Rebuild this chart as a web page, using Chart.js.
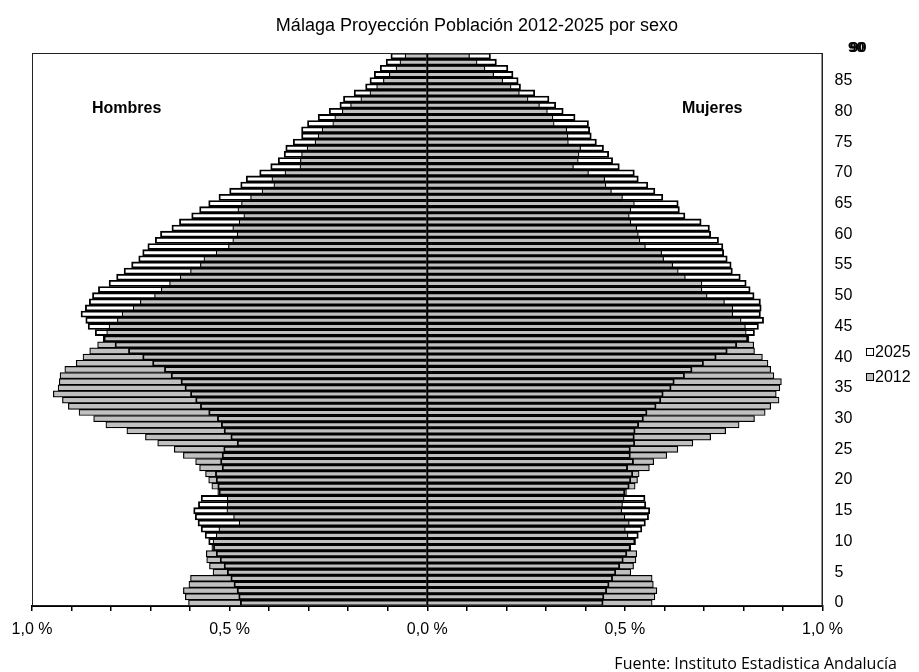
<!DOCTYPE html>
<html>
<head>
<meta charset="utf-8">
<title>Málaga Proyección Población 2012-2025 por sexo</title>
<script src="https://cdn.jsdelivr.net/npm/chart.js@4/dist/chart.umd.min.js"></script>
<style>
  html, body { margin: 0; padding: 0; background: #fff; }
  canvas { display: block; }
</style>
</head>
<body>
<canvas id="grafico" width="919" height="672"></canvas>
<script>

// edades 0..89 (de abajo hacia arriba)
const edades = ['0','1','2','3','4','5','6','7','8','9','10','11','12','13','14','15','16','17','18','19',
    '20','21','22','23','24','25','26','27','28','29','30','31','32','33','34','35','36','37','38','39',
    '40','41','42','43','44','45','46','47','48','49','50','51','52','53','54','55','56','57','58','59',
    '60','61','62','63','64','65','66','67','68','69','70','71','72','73','74','75','76','77','78','79',
    '80','81','82','83','84','85','86','87','88','89']

// % de la poblacion total
const hombres2012 = [0.604, 0.612, 0.617, 0.603, 0.599, 0.542, 0.551, 0.558, 0.559, 0.545,
    0.542, 0.534, 0.527, 0.476, 0.490, 0.507, 0.506, 0.506, 0.530, 0.545,
    0.553, 0.561, 0.576, 0.586, 0.617, 0.640, 0.682, 0.713, 0.760, 0.813,
    0.844, 0.881, 0.908, 0.923, 0.946, 0.934, 0.931, 0.929, 0.917, 0.888,
    0.871, 0.854, 0.834, 0.820, 0.811, 0.805, 0.784, 0.772, 0.744, 0.726,
    0.690, 0.673, 0.652, 0.625, 0.599, 0.574, 0.565, 0.534, 0.503, 0.492,
    0.481, 0.492, 0.476, 0.464, 0.479, 0.470, 0.447, 0.418, 0.388, 0.393,
    0.360, 0.322, 0.321, 0.318, 0.304, 0.284, 0.276, 0.266, 0.239, 0.234,
    0.215, 0.194, 0.168, 0.145, 0.128, 0.111, 0.096, 0.079, 0.069, 0.056]

const hombres2025 = [0.473, 0.477, 0.481, 0.489, 0.497, 0.506, 0.514, 0.524, 0.534, 0.541,
    0.553, 0.562, 0.572, 0.580, 0.587, 0.591, 0.579, 0.572, 0.527, 0.530,
    0.534, 0.536, 0.519, 0.523, 0.519, 0.515, 0.481, 0.497, 0.514, 0.521,
    0.531, 0.553, 0.574, 0.586, 0.599, 0.613, 0.623, 0.648, 0.665, 0.695,
    0.720, 0.756, 0.790, 0.818, 0.840, 0.858, 0.864, 0.876, 0.865, 0.855,
    0.847, 0.832, 0.805, 0.786, 0.767, 0.748, 0.730, 0.720, 0.707, 0.688,
    0.675, 0.646, 0.627, 0.596, 0.576, 0.553, 0.527, 0.500, 0.472, 0.458,
    0.424, 0.396, 0.377, 0.362, 0.358, 0.339, 0.318, 0.318, 0.303, 0.276,
    0.248, 0.221, 0.212, 0.185, 0.156, 0.145, 0.134, 0.119, 0.104, 0.092]

const mujeres2012 = [0.569, 0.576, 0.581, 0.572, 0.569, 0.515, 0.522, 0.528, 0.530, 0.515,
    0.524, 0.508, 0.501, 0.511, 0.500, 0.492, 0.494, 0.498, 0.504, 0.526,
    0.532, 0.536, 0.562, 0.573, 0.606, 0.634, 0.672, 0.717, 0.755, 0.789,
    0.828, 0.855, 0.869, 0.890, 0.883, 0.892, 0.896, 0.877, 0.869, 0.862,
    0.848, 0.828, 0.826, 0.814, 0.807, 0.805, 0.794, 0.773, 0.773, 0.752,
    0.708, 0.695, 0.695, 0.653, 0.635, 0.621, 0.598, 0.593, 0.552, 0.538,
    0.534, 0.530, 0.515, 0.511, 0.515, 0.524, 0.494, 0.466, 0.452, 0.449,
    0.408, 0.370, 0.382, 0.384, 0.388, 0.357, 0.356, 0.353, 0.321, 0.318,
    0.304, 0.284, 0.255, 0.233, 0.212, 0.191, 0.168, 0.146, 0.126, 0.107]

const mujeres2025 = [0.445, 0.447, 0.454, 0.460, 0.469, 0.477, 0.487, 0.496, 0.505, 0.514,
    0.527, 0.534, 0.543, 0.552, 0.560, 0.563, 0.553, 0.551, 0.500, 0.511,
    0.515, 0.520, 0.507, 0.522, 0.514, 0.514, 0.525, 0.524, 0.526, 0.535,
    0.547, 0.556, 0.579, 0.591, 0.597, 0.617, 0.625, 0.651, 0.670, 0.699,
    0.731, 0.759, 0.783, 0.811, 0.828, 0.838, 0.851, 0.843, 0.845, 0.843,
    0.827, 0.817, 0.807, 0.792, 0.772, 0.769, 0.759, 0.750, 0.748, 0.737,
    0.717, 0.714, 0.693, 0.652, 0.638, 0.635, 0.596, 0.576, 0.558, 0.534,
    0.524, 0.486, 0.469, 0.459, 0.446, 0.428, 0.415, 0.411, 0.408, 0.374,
    0.344, 0.325, 0.308, 0.272, 0.236, 0.230, 0.217, 0.204, 0.175, 0.160]

const TITULO = 'Málaga Proyección Población 2012-2025 por sexo'
const FUENTE = 'Fuente: Instituto Estadistica Andalucía'
const GRIS = '#c0c0c0'
const ARIAL = '"Liberation Sans", Arial, sans-serif'

const barra = {
    borderColor: '#000',
    borderWidth: 1.2,
    borderSkipped: 'start',
    grouped: false,
    barPercentage: 1,
    categoryPercentage: 1
}

// textos, marco, eje central y leyenda
const extras = {
    id: 'extras',
    beforeDraw: (chart) => {
        const ctx = chart.ctx
        ctx.save()
        ctx.fillStyle = '#fff'
        ctx.fillRect(0, 0, chart.width, chart.height)
        ctx.restore()
    },
    afterDatasetsDraw: (chart) => {
        const ctx = chart.ctx
        const a = chart.chartArea
        const x0 = chart.scales.x.getPixelForValue(0)
        ctx.save()
        ctx.strokeStyle = '#000'
        ctx.lineWidth = 2
        ctx.beginPath()
        ctx.moveTo(x0, a.top)
        ctx.lineTo(x0, a.bottom)
        ctx.stroke()
        ctx.restore()
    },
    afterDraw: (chart) => {
        const ctx = chart.ctx
        const a = chart.chartArea
        ctx.save()

        ctx.strokeStyle = '#222'
        ctx.lineWidth = 1
        ctx.strokeRect(a.left + 0.5, a.top + 0.5, a.right - a.left - 1, a.bottom - a.top - 1)

        ctx.fillStyle = '#000'
        ctx.textBaseline = 'alphabetic'
        ctx.font = '18px ' + ARIAL
        ctx.textAlign = 'center'
        ctx.fillText(TITULO, 477, 31)

        ctx.font = 'bold 16px ' + ARIAL
        ctx.textAlign = 'left'
        ctx.fillText('Hombres', 92, 113)
        ctx.fillText('Mujeres', 682, 113)

        // etiqueta superior del eje (se solapa en el original)
        ctx.font = 'bold 15px ' + ARIAL
        ctx.fillText('90', 848, 52)
        ctx.fillText('90', 850, 52)

        // leyenda
        const items = [chart.data.datasets[0], chart.data.datasets[2]]
        ctx.font = '16px ' + ARIAL
        ctx.textBaseline = 'middle'
        items.forEach((ds, i) => {
            const y = 352 + i * 25
            ctx.fillStyle = ds.backgroundColor === GRIS ? GRIS : '#fff'
            ctx.fillRect(866.5, y - 3.5, 7, 7)
            ctx.strokeStyle = '#000'
            ctx.strokeRect(866.5, y - 3.5, 7, 7)
            ctx.fillStyle = '#000'
            ctx.fillText(ds.label, 875, y + 1)
        })

        ctx.font = '16px "Open Sans", sans-serif'
        ctx.textAlign = 'right'
        ctx.textBaseline = 'alphabetic'
        ctx.fillText(FUENTE, 897, 669)
        ctx.restore()
    }
}

var ctx = document.getElementById('grafico')
var grafico = new Chart(ctx, {
    type: 'bar',
    data: {
        labels: edades,
        datasets: [
            { label: '2025', data: hombres2025.map(v => -v), backgroundColor: 'rgba(255,255,255,0)', ...barra },
            { label: '2025', data: mujeres2025, backgroundColor: 'rgba(255,255,255,0)', ...barra },
            { label: '2012', data: hombres2012.map(v => -v), backgroundColor: GRIS, ...barra },
            { label: '2012', data: mujeres2012, backgroundColor: GRIS, ...barra }
        ]
    },
    options: {
        indexAxis: 'y',
        responsive: false,
        animation: false,
        layout: {
            padding: { left: 32, top: 53, right: 0, bottom: 0 }
        },
        plugins: {
            legend: { display: false },
            title: { display: false },
            tooltip: { enabled: false }
        },
        scales: {
            x: {
                type: 'linear',
                min: -1,
                max: 1,
                afterFit: (s) => { s.height = 66 },
                border: { display: true, color: '#000', width: 2 },
                grid: {
                    display: true,
                    drawOnChartArea: false,
                    drawTicks: true,
                    tickLength: 5,
                    tickColor: '#000',
                    lineWidth: 1.5
                },
                ticks: {
                    stepSize: 0.1,
                    autoSkip: false,
                    maxRotation: 0,
                    padding: 9,
                    color: '#000',
                    font: { family: ARIAL, size: 16 },
                    callback: (v) => {
                        const d = Math.round(v * 10)
                        if (d % 5 !== 0) return ''
                        return (Math.abs(d) / 10).toFixed(1).replace('.', ',') + ' %'
                    }
                }
            },
            y: {
                type: 'category',
                position: 'right',
                reverse: true,
                offset: true,
                afterFit: (s) => { s.width = 96.5 },
                border: { display: true, color: '#222', width: 1 },
                grid: { display: false, drawTicks: false },
                ticks: {
                    autoSkip: false,
                    padding: 12,
                    color: '#000',
                    font: { family: ARIAL, size: 16 },
                    callback: (v, i) => (i % 5 === 0 ? edades[i] : '')
                }
            }
        }
    },
    plugins: [extras]
})

</script>
</body>
</html>
